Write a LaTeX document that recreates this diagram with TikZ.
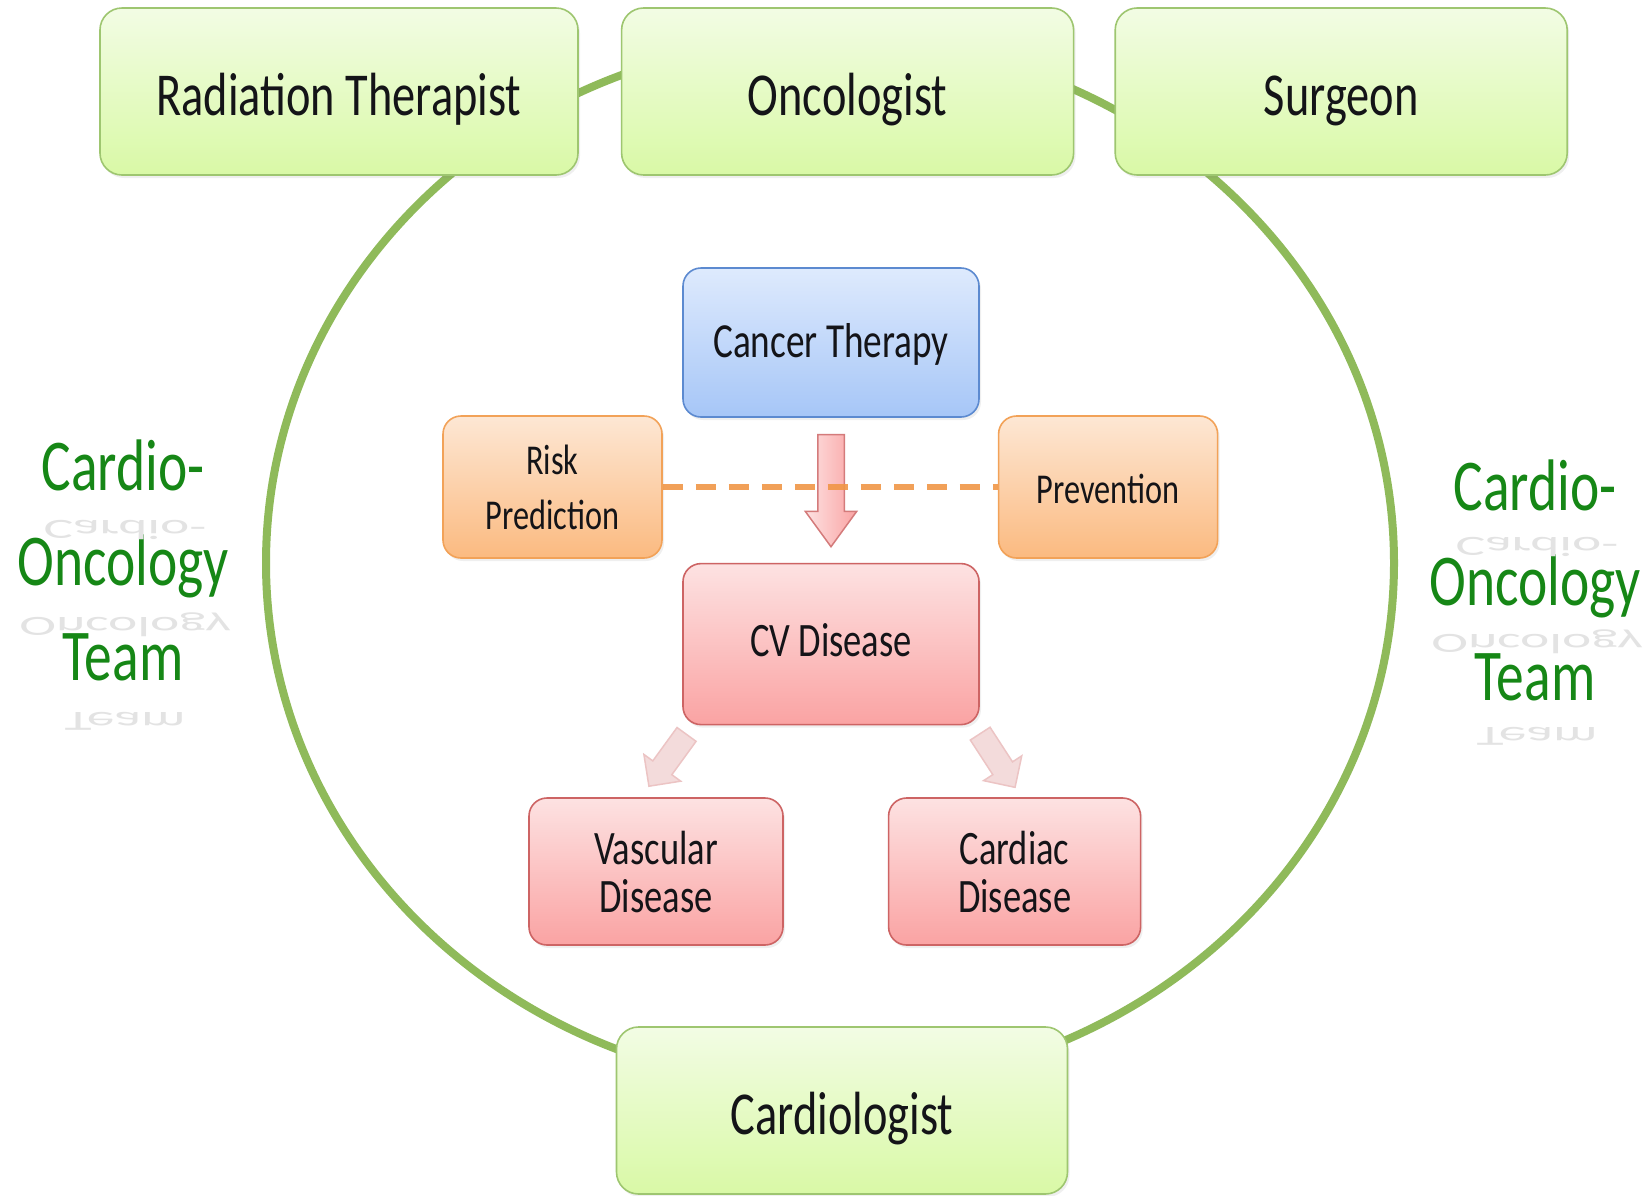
\documentclass[tikz,border=0pt]{standalone}
\usepackage{fontspec}
\setmainfont[FakeStretch=0.76]{Carlito}
\usepackage{graphicx}
\usepackage{tikz}
\usetikzlibrary{positioning,shapes.arrows,shadows,calc}

\definecolor{ringgreen}{RGB}{143,186,90}
\definecolor{roletop}{RGB}{242,252,228}
\definecolor{rolebot}{RGB}{217,249,166}
\definecolor{roleline}{RGB}{158,198,112}
\definecolor{cancertop}{RGB}{222,234,253}
\definecolor{cancerbot}{RGB}{166,198,247}
\definecolor{cancerline}{RGB}{92,138,208}
\definecolor{risktop}{RGB}{253,231,212}
\definecolor{riskbot}{RGB}{251,186,128}
\definecolor{riskline}{RGB}{242,162,88}
\definecolor{cvtop}{RGB}{253,226,226}
\definecolor{cvbot}{RGB}{250,163,163}
\definecolor{cvline}{RGB}{205,100,100}
\definecolor{dashorange}{RGB}{240,150,70}
\definecolor{teamgreen}{RGB}{22,135,22}
\definecolor{ink}{RGB}{20,20,24}

\begin{document}
\begin{tikzpicture}[
  x=1pt, y=-1pt,
  box/.style={draw, line width=1.6pt, rounded corners=18pt, text=ink,
    align=center, inner sep=0pt,
    drop shadow={opacity=0.12, shadow xshift=2pt, shadow yshift=-3pt}},
  role/.style={box, draw=roleline, top color=roletop, bottom color=rolebot,
    minimum width=452pt, minimum height=167pt, rounded corners=22pt,
    font=\fontsize{61}{73}\selectfont, text height=47pt, text depth=0pt},
  cancerbox/.style={box, draw=cancerline, top color=cancertop,
    bottom color=cancerbot, minimum width=296pt, minimum height=149pt,
    font=\fontsize{49}{58}\selectfont},
  riskbox/.style={box, draw=riskline, top color=risktop, bottom color=riskbot,
    minimum width=219pt, minimum height=142pt,
    font=\fontsize{42.5}{55}\selectfont},
  cvbox/.style={box, draw=cvline, top color=cvtop, bottom color=cvbot,
    minimum width=296pt, minimum height=161pt,
    font=\fontsize{48}{48}\selectfont},
  team/.style={text=teamgreen, align=center, inner sep=0pt,
    font=\fontsize{73}{95}\selectfont},
  refl/.style={text=black!11, inner sep=0pt, anchor=north,
    font=\fontsize{73}{95}\selectfont},
  ring/.style={draw=ringgreen, line width=8pt},
  dashline/.style={draw=dashorange, line width=6pt, opacity=0.9,
    dash pattern=on 20pt off 13pt},
  bigarr/.style={single arrow, draw=cvline!85, line width=1.5pt,
    left color=cvtop, right color=cvbot, inner xsep=0pt, inner ysep=12.5pt,
    single arrow head extend=12.5pt, single arrow tip angle=72,
    minimum width=50pt, minimum height=112pt},
  fadearr/.style={single arrow, draw={rgb,255:red,236;green,196;blue,196},
    fill={rgb,255:red,243;green,219;blue,219}, line width=1.5pt,
    inner xsep=0pt, inner ysep=11pt,
    single arrow head extend=11pt, single arrow tip angle=90,
    minimum width=44pt, minimum height=64pt},
]

\path[use as bounding box, fill=white] (0,0) rectangle (1650,1195);

% the team ring behind the specialists
\draw[ring] (830,563) ellipse [x radius=564, y radius=525];

\node[role, minimum width=478pt] (rt) at (339,91.5) {Radiation Therapist};
\node[role, right=42pt of rt] (onc) {Oncologist};
\node[role, right=40pt of onc] (surg) {Surgeon};
\node[role, minimum width=451pt] (cardio) at (842,1110.5) {Cardiologist};

\node[cancerbox, text height=29pt, text depth=0pt] (cancer)
  at (831,342.5) {Cancer Therapy};
\node[cvbox, below=145pt of cancer, text height=25pt, text depth=0pt] (cv)
  {CV Disease};
\node[riskbox] (risk) at (552.5,487) {Risk\\Prediction};
\node[riskbox, right=335pt of risk, text height=33pt, text depth=0pt] (prev)
  {Prevention};
\node[cvbox, minimum width=254pt, minimum height=147pt] (vasc)
  at (656,871.5) {Vascular\\Disease};
\node[cvbox, minimum width=252pt, minimum height=147pt, right=104pt of vasc]
  (cardiac) {Cardiac\\Disease};

\node[bigarr, rotate=-90] (down)
  at ($(cancer.south)!0.44!(cv.north)$) {};
\draw[dashline] (risk) -- (prev);
\node[fadearr, rotate=234] (tovasc)
  at ($(cv.south west)!0.42!(vasc.north)$) {};
\node[fadearr, rotate=303] (tocardiac)
  at ($(cv.south east)!0.42!(cardiac.north)$) {};

% side titles with their faded mirror images
\node[team] (teamL) at (123,560.5) {Cardio-\\Oncology\\Team};
\node[team] (teamR) at (1535,580.5) {Cardio-\\Oncology\\Team};
\node[refl] (reflLa) at (125,520) {\scalebox{1}[-0.38]{Cardio-}};
\node[refl] (reflLb) at (125,613) {\scalebox{1}[-0.38]{Oncology}};
\node[refl] (reflLc) at (125,712) {\scalebox{1}[-0.38]{Team}};
\node[refl] (reflRa) at (1537,537) {\scalebox{1}[-0.38]{Cardio-}};
\node[refl] (reflRb) at (1537,630) {\scalebox{1}[-0.38]{Oncology}};
\node[refl] (reflRc) at (1537,727) {\scalebox{1}[-0.38]{Team}};

\end{tikzpicture}
\end{document}
